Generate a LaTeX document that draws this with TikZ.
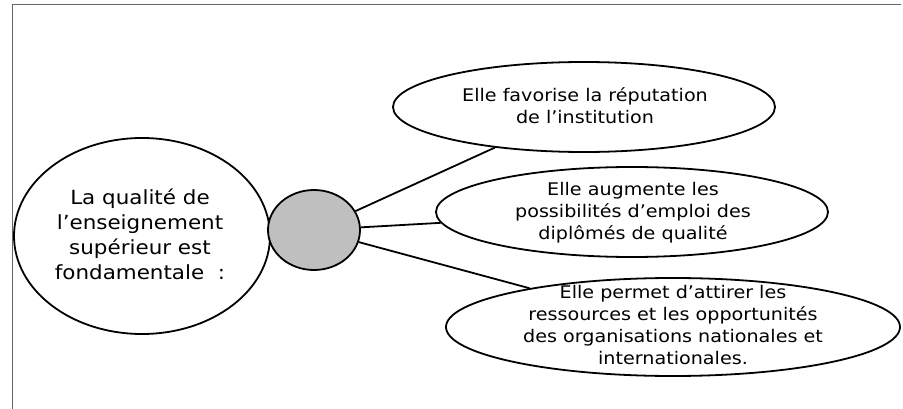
\documentclass[tikz,border=0pt]{standalone}
\usepackage{fontspec}
\setmainfont[FakeStretch=1.1]{DejaVu Sans}
\usepackage{xcolor}
\usepackage{tikz}
\usetikzlibrary{shapes.geometric}

\tikzset{
  idea/.style={ellipse, draw=black, line width=1.8pt, fill=white, inner sep=0pt},
  hub/.style={ellipse, draw=black, line width=1.8pt, fill=black!25, inner sep=0pt},
  ideatext/.style={align=center, inner sep=0pt, font=\fontsize{17.4}{22}\selectfont},
  maintext/.style={align=center, inner sep=0pt, font=\fontsize{19.5}{25}\selectfont},
  link/.style={line width=1.8pt}
}

\begin{document}
\begin{tikzpicture}[x=1pt,y=-1pt]
\useasboundingbox (0,0) rectangle (903,409);
\draw[color=black!60] (12,409)--(12,4)--(901,4);

\node[idea, minimum width=256pt, minimum height=196pt] (main) at (142,236) {};
\node[hub, minimum width=92pt, minimum height=80pt] (hub) at (314,230) {};
\node[idea, minimum width=382pt, minimum height=90pt] (rep) at (584,107) {};
\node[idea, minimum width=392pt, minimum height=90pt] (emploi) at (632,212) {};
\node[idea, minimum width=454pt, minimum height=98pt] (ress) at (673,327) {};

\node[maintext] (maintxt) at (140,234) {La qualité de\\l’enseignement\\supérieur est\\fondamentale~~:};
\node[ideatext] (reptxt) at (585,106) {Elle favorise la réputation\\de l’institution};
\node[ideatext] (emploitxt) at (633,213) {Elle augmente les\\possibilités d’emploi des\\diplômés de qualité};
\node[ideatext] (resstxt) at (673,325) {Elle permet d’attirer les\\ressources et les opportunités\\des organisations nationales et\\internationales.};

\draw[link] (hub)--(rep);
\draw[link] (hub)--(emploi);
\draw[link] (hub)--(ress);

\end{tikzpicture}
\end{document}
